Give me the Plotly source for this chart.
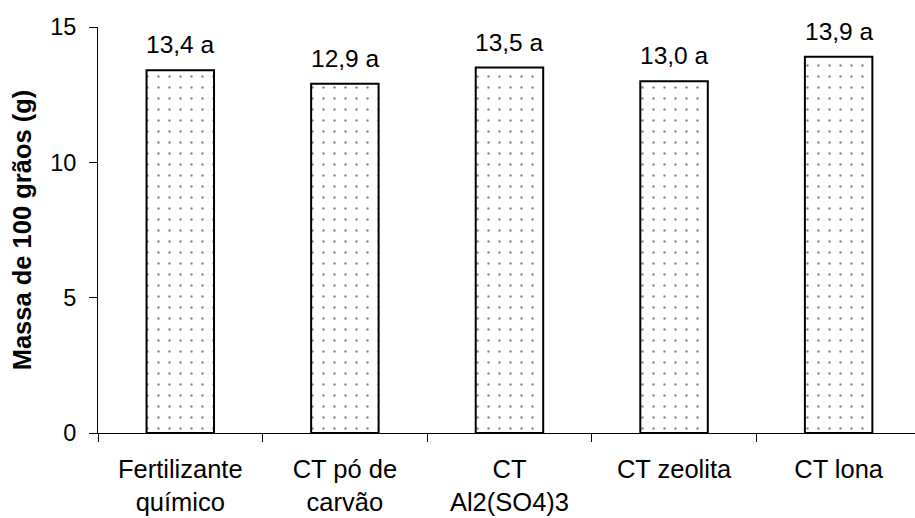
import plotly.graph_objects as go

categories = ["Fertilizante<br>químico", "CT pó de<br>carvão", "CT<br>Al2(SO4)3", "CT zeolita", "CT lona"]
values = [13.4, 12.9, 13.5, 13.0, 13.9]
letters = ["a", "a", "a", "a", "a"]
y_ticks = [0, 5, 10, 15]
y_title = "Massa de 100 grãos (g)"

labels = [f"{v:.1f}".replace(".", ",") + " " + l for v, l in zip(values, letters)]

FONT = "Liberation Sans, Arial, sans-serif"

fig = go.Figure(
    go.Bar(
        x=categories,
        y=values,
        width=0.41,
        marker=dict(
            color="white",
            line=dict(color="black", width=2),
            pattern=dict(shape=".", fgcolor="#111111", bgcolor="white",
                         size=11, solidity=0.04),
        ),
        showlegend=False,
    )
)

for c, v, t in zip(categories, values, labels):
    fig.add_annotation(x=c, y=v, text=t, showarrow=False, yanchor="bottom",
                       yshift=10, font=dict(family=FONT, size=24.5, color="black"))

fig.update_layout(
    width=915, height=518,
    margin=dict(l=98, r=0, t=27, b=85),
    paper_bgcolor="white", plot_bgcolor="white",
    font=dict(family=FONT, size=24, color="black"),
    bargap=0.59,
)
fig.update_xaxes(
    type="category",
    range=[-0.5, 4.464],
    automargin=False,
    showline=True, linecolor="black", linewidth=1,
    ticks="outside", tickson="boundaries", ticklen=8, tickcolor="black",
    showgrid=False,
    ticklabelstandoff=13,
    tickfont=dict(family=FONT, size=25.5, color="black"),
)
fig.update_yaxes(
    range=[0, 15],
    automargin=False,
    tickvals=y_ticks,
    showline=True, linecolor="black", linewidth=1,
    ticks="outside", ticklen=8, tickcolor="black",
    showgrid=False, zeroline=False,
    ticklabelstandoff=8,
    tickfont=dict(family=FONT, size=23.5, color="black"),
    title=dict(text="<b>" + y_title + "</b>", font=dict(family=FONT, size=25.5, color="black"), standoff=11),
)

fig.write_html("out.html", config={"displayModeBar": False},
               post_script="document.body.style.margin='0';")
